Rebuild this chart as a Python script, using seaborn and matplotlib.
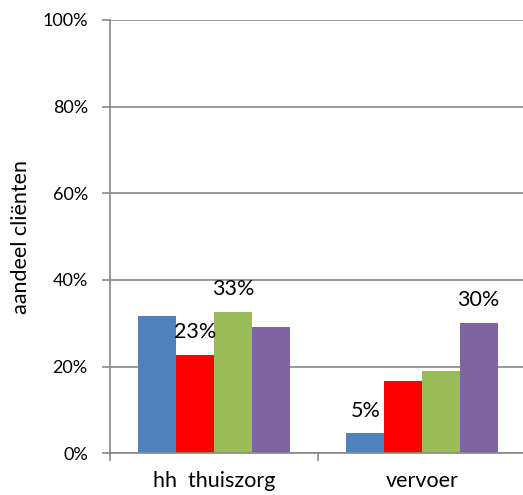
import matplotlib
matplotlib.use("Agg")
import matplotlib.pyplot as plt
import seaborn as sns
import pandas as pd
from matplotlib.ticker import FixedLocator, FuncFormatter

categories = ["hh  thuiszorg", "vervoer"]
series = ["s1", "s2", "s3", "s4"]
values = {
    "s1": [31.7, 4.6],
    "s2": [22.8, 16.6],
    "s3": [32.7, 18.9],
    "s4": [29.1, 30.1],
}
bar_labels = {
    "s1": ["", "5%"],
    "s2": ["23%", ""],
    "s3": ["33%", ""],
    "s4": ["", "30%"],
}
colors = ["#4F81BD", "#FF0000", "#9BBB59", "#8064A2"]
yticks = [0, 20, 40, 60, 80, 100]

rows = []
for s in series:
    for c, v in zip(categories, values[s]):
        rows.append({"cat": c, "series": s, "value": v})
df = pd.DataFrame(rows)

sns.set_style("white")
plt.rcParams["font.family"] = ["Lato", "DejaVu Sans"]

fig = plt.figure(figsize=(5.23, 4.95), dpi=100)
ax = fig.add_axes([110 / 523, (495 - 453.3) / 495, 416 / 523, 433.3 / 495])

sns.barplot(data=df, x="cat", y="value", hue="series", palette=colors,
            width=0.726, gap=0, saturation=1, ax=ax, legend=False,
            edgecolor="none", linewidth=0)

for s, cont in zip(series, ax.containers):
    ax.bar_label(cont, labels=bar_labels[s], padding=9, fontsize=15.5,
                 color="#000000")

ax.set_ylim(0, 100)
ax.set_xlim(-0.5, 1.5)
ax.yaxis.set_major_locator(FixedLocator(yticks))
ax.yaxis.set_major_formatter(FuncFormatter(lambda v, p: f"{int(v)}%"))
ax.grid(axis="y", color="#888888", linewidth=1.2)
ax.set_axisbelow(True)

for sp in ["top", "right"]:
    ax.spines[sp].set_visible(False)
for sp in ["left", "bottom"]:
    ax.spines[sp].set_color("#888888")
    ax.spines[sp].set_linewidth(1.2)

ax.tick_params(axis="y", length=6, width=1.2, color="#888888", pad=10,
               labelsize=13, left=True, labelcolor="#000000")
ax.tick_params(axis="x", which="major", length=0, pad=13, labelsize=15.5,
               labelcolor="#000000")
ax.set_xticks([-0.5, 0.5, 1.5], minor=True)
ax.tick_params(axis="x", which="minor", length=6, width=1.2, color="#888888",
               bottom=True)
ax.set_xlabel("")
ax.set_ylabel("aandeel cliënten", fontsize=15.5, color="#000000")
ax.yaxis.set_label_coords(-0.19, 0.5)

fig.savefig("out.png", dpi=100)
